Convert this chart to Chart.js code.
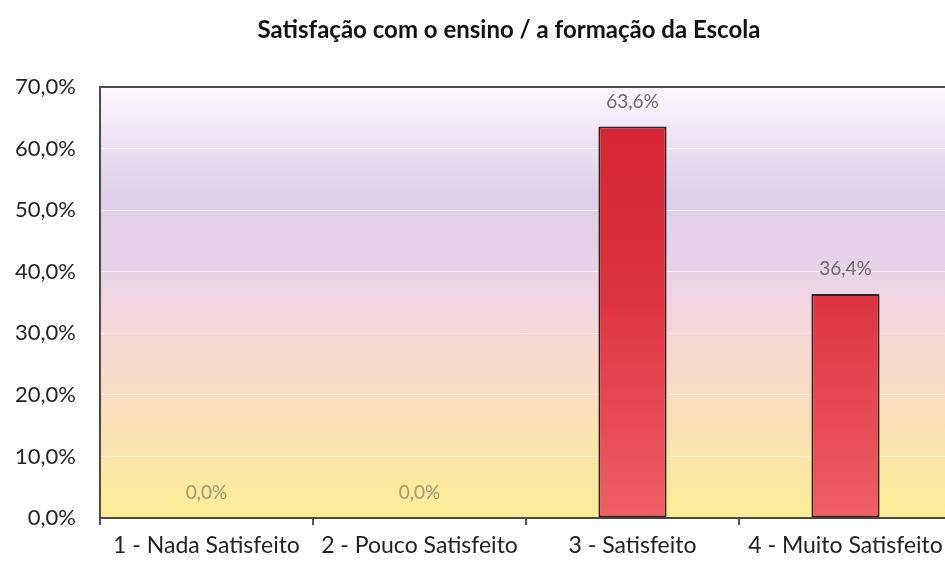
<!DOCTYPE html>
<html>
<head>
<meta charset="utf-8">
<script src="https://cdn.jsdelivr.net/npm/chart.js@4/dist/chart.umd.min.js"></script>
<style>
  html, body { margin: 0; padding: 0; background: #fff; overflow: hidden; }
  #wrap { width: 960px; height: 563px; }
</style>
</head>
<body>
<div id="wrap"><canvas id="chart" width="960" height="563"></canvas></div>
<script>
// dados
const categorias = ['1 - Nada Satisfeito', '2 - Pouco Satisfeito', '3 - Satisfeito', '4 - Muito Satisfeito'];
const percentagens = [0.0, 0.0, 63.6, 36.4];
const titulo = 'Satisfação com o ensino / a formação da Escola';

const fmt = v => v.toFixed(1).replace('.', ',') + '%';

// fundo em degradê + moldura + título
const fundoPlugin = {
    id: 'fundo',
    beforeDraw(chart) {
        const { ctx, chartArea: a } = chart;
        const g = ctx.createLinearGradient(0, a.top, 0, a.bottom);
        g.addColorStop(0.00, '#fdf9fd');
        g.addColorStop(0.10, '#f0e6f4');
        g.addColorStop(0.25, '#ddd0ea');
        g.addColorStop(0.40, '#e6d2e8');
        g.addColorStop(0.52, '#f3d6df');
        g.addColorStop(0.66, '#f9dbc9');
        g.addColorStop(0.80, '#fbe1b4');
        g.addColorStop(0.90, '#fbe8a3');
        g.addColorStop(1.00, '#fcee97');
        ctx.save();
        ctx.fillStyle = g;
        ctx.fillRect(a.left, a.top, a.right - a.left, a.bottom - a.top);
        ctx.restore();
    },
    afterDraw(chart) {
        const { ctx, chartArea: a } = chart;
        ctx.save();
        ctx.strokeStyle = '#4a4a4a';
        ctx.lineWidth = 2;
        ctx.beginPath();
        ctx.moveTo(a.left, a.top);
        ctx.lineTo(a.right, a.top);
        ctx.lineTo(a.right, a.bottom);
        ctx.stroke();
        // título
        ctx.fillStyle = '#111';
        ctx.font = 'bold 24px Lato';
        ctx.textAlign = 'center';
        ctx.textBaseline = 'middle';
        ctx.fillText(titulo, 509, 30);
        ctx.restore();
    }
};

// rótulos dos valores
const rotulosPlugin = {
    id: 'rotulos',
    afterDatasetsDraw(chart) {
        const { ctx } = chart;
        const meta = chart.getDatasetMeta(0);
        ctx.save();
        ctx.font = '19px Lato';
        ctx.textAlign = 'center';
        ctx.textBaseline = 'middle';
        meta.data.forEach((bar, i) => {
            const v = percentagens[i];
            ctx.fillStyle = v === 0 ? '#a39872' : '#6b6b6b';
            ctx.fillText(fmt(v), bar.x, bar.y - 25);
        });
        ctx.restore();
    }
};

function gradienteBarra(context) {
    const a = context.chart.chartArea;
    if (!a) return '#dd3340';
    const g = context.chart.ctx.createLinearGradient(0, a.top, 0, a.bottom);
    g.addColorStop(0, '#d4202f');
    g.addColorStop(0.5, '#de3442');
    g.addColorStop(1, '#ee5f66');
    return g;
}

new Chart(document.getElementById('chart'), {
    type: 'bar',
    data: {
        labels: categorias,
        datasets: [{
            data: percentagens,
            backgroundColor: gradienteBarra,
            borderColor: '#3a1c1c',
            borderWidth: 2,
            borderSkipped: false,
            categoryPercentage: 0.64,
            barPercentage: 0.5
        }]
    },
    options: {
        responsive: false,
        animation: false,
        layout: { padding: { left: 0, right: 8, top: 87, bottom: 0 } },
        plugins: {
            legend: { display: false },
            tooltip: { enabled: false },
            title: { display: false }
        },
        scales: {
            x: {
                grid: { drawOnChartArea: false, drawTicks: true, tickLength: 7, color: '#555', lineWidth: 2 },
                border: { display: true, color: '#4a4a4a', width: 2 },
                ticks: { color: '#222', font: { family: 'Lato', size: 23 }, padding: 7, maxRotation: 0, autoSkip: false },
                afterFit(s) { s.height = 45; }
            },
            y: {
                min: 0,
                max: 70,
                grid: { color: 'rgba(255,255,255,0.6)', drawTicks: false, lineWidth: 1 },
                border: { display: true, color: '#4a4a4a', width: 2 },
                ticks: {
                    stepSize: 10,
                    color: '#222',
                    font: { family: 'Lato', size: 22 },
                    padding: 24,
                    callback: v => fmt(v)
                },
                afterFit(s) { s.width = 100; }
            }
        }
    },
    plugins: [fundoPlugin, rotulosPlugin]
});
</script>
</body>
</html>
